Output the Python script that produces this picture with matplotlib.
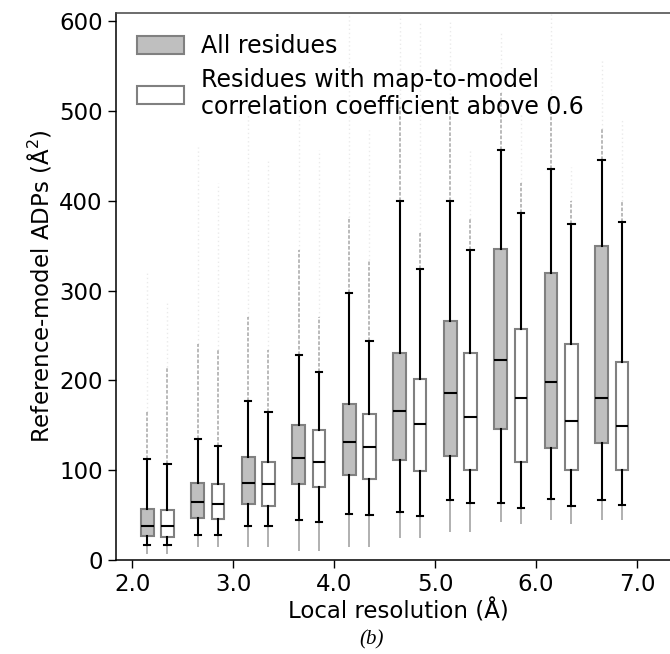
import numpy as np
import matplotlib
matplotlib.use("Agg")
import matplotlib.pyplot as plt
from matplotlib.patches import Patch

# box statistics: pairs (all residues, cc > 0.6) per resolution bin
res_ticks = [2.0, 3.0, 4.0, 5.0, 6.0, 7.0]
pos_all = [2.15, 2.65, 3.15, 3.65, 4.15, 4.65, 5.15, 5.65, 6.15, 6.65]
pos_cc = [2.35, 2.85, 3.35, 3.85, 4.35, 4.85, 5.35, 5.85, 6.35, 6.85]

all_lo_cap = [16.5, 27.6, 38.4, 44.3, 51.7, 53, 66.8, 63.3, 67.6, 66.6]
all_q1 = [26.5, 46.5, 62, 84.3, 94.3, 110.8, 115.3, 146.2, 125.2, 130.5]
all_med = [38.4, 64.3, 86.2, 113.9, 131.6, 166.2, 185.6, 222.9, 197.8, 180.8]
all_q3 = [57, 85.9, 114.8, 150.8, 174, 230.8, 266.5, 345.9, 319.5, 349.4]
all_hi_cap = [112.6, 134.8, 177, 228.2, 297, 399.5, 400, 456.2, 435, 445.3]

cc_lo_cap = [16.5, 27.6, 37.8, 42.5, 50.6, 49, 63.5, 58.2, 60.6, 61.3]
cc_q1 = [25.8, 45.8, 60.6, 81.4, 90.5, 99.4, 100, 109, 100.3, 100.6]
cc_med = [37.6, 62.8, 84.5, 109.5, 125.8, 151.8, 159, 180.5, 154.2, 148.9]
cc_q3 = [55.4, 84.3, 109, 144.4, 162.7, 201.6, 230.8, 256.7, 240, 220]
cc_hi_cap = [107.3, 127.4, 165.2, 209.3, 243.4, 324.3, 345.3, 386, 374.3, 376]

# outlier streaks: lowest outlier, top of the dense part, highest outlier
all_fl_min = [7, 15, 14, 10, 14, 25, 31, 42, 45, 45]
all_fl_dense = [165, 240, 271, 345, 382, 504, 500, 520, 500, 480]
all_fl_max = [320, 460, 497, 501, 607, 607, 600, 587, 608, 557]
cc_fl_min = [7, 15, 14, 10, 15, 25, 31, 40, 40, 45]
cc_fl_dense = [215, 234, 234, 271, 334, 364, 380, 420, 400, 400]
cc_fl_max = [288, 420, 445, 456, 479, 600, 456, 497, 437, 490]

legend_labels = ["All residues",
                 "Residues with map-to-model\ncorrelation coefficient above 0.6"]

grey_fill = "#bfbfbf"
edge = "#808080"
fs = 16.5

fig = plt.figure(figsize=(6.70, 6.54), dpi=100)
ax = fig.add_axes([116 / 670, (654 - 560) / 654, (680 - 116) / 670, (560 - 13) / 654])


def make_stats(lo, q1, med, q3, hi):
    return [dict(whislo=a, q1=b, med=c, q3=d, whishi=e, fliers=[])
            for a, b, c, d, e in zip(lo, q1, med, q3, hi)]


def draw_streaks(pos, fl_min, lo_cap, hi_cap, dense, top):
    ax.vlines(pos, fl_min, lo_cap, color="#444444", lw=1.3, alpha=0.45, zorder=1)
    ax.vlines(pos, hi_cap, dense, color="#444444", lw=1.3, alpha=0.4,
              linestyle=(0, (2, 1)), zorder=1)
    ax.vlines(pos, dense, top, color="#777777", lw=1.0, alpha=0.15,
              linestyle=(0, (1, 2)), zorder=1)


draw_streaks(pos_all, all_fl_min, all_lo_cap, all_hi_cap, all_fl_dense, all_fl_max)
draw_streaks(pos_cc, cc_fl_min, cc_lo_cap, cc_hi_cap, cc_fl_dense, cc_fl_max)

common = dict(widths=0.125, patch_artist=True, showfliers=False,
              medianprops=dict(color="black", lw=1.5),
              whiskerprops=dict(color="black", lw=1.5),
              capprops=dict(color="black", lw=1.5),
              manage_ticks=False)

ax.bxp(make_stats(all_lo_cap, all_q1, all_med, all_q3, all_hi_cap), positions=pos_all,
       boxprops=dict(facecolor=grey_fill, edgecolor=edge, lw=1.5), **common)
ax.bxp(make_stats(cc_lo_cap, cc_q1, cc_med, cc_q3, cc_hi_cap), positions=pos_cc,
       boxprops=dict(facecolor="white", edgecolor=edge, lw=1.5), **common)

ax.set_xlim(1.84, 7.426)
ax.set_ylim(0, 609)
ax.set_xticks(res_ticks)
ax.set_xticklabels([f"{t:.1f}" for t in res_ticks])
ax.set_yticks([0, 100, 200, 300, 400, 500, 600])
ax.tick_params(labelsize=fs, length=6, width=1)
for s in ["left", "bottom", "top"]:
    ax.spines[s].set_linewidth(1.1)
ax.spines["top"].set_color("#444444")

ax.set_xlabel("Local resolution (Å)", fontsize=fs, labelpad=2)
ax.set_ylabel("Reference-model ADPs (Å$^2$)", fontsize=fs, labelpad=4)

handles = [Patch(facecolor=grey_fill, edgecolor=edge, lw=1.5),
           Patch(facecolor="white", edgecolor=edge, lw=1.5)]
ax.legend(handles, legend_labels, loc="upper left", frameon=False, fontsize=17,
          handlelength=2.0, handleheight=0.75, handletextpad=0.7,
          labelspacing=0.4, borderaxespad=0.5, bbox_to_anchor=(0.0, 1.0))

fig.text(372 / 670, 1 - 640 / 654, "(b)", ha="center", va="center",
         fontsize=15, style="italic", family="Liberation Serif")

fig.savefig("out.png", dpi=100)
